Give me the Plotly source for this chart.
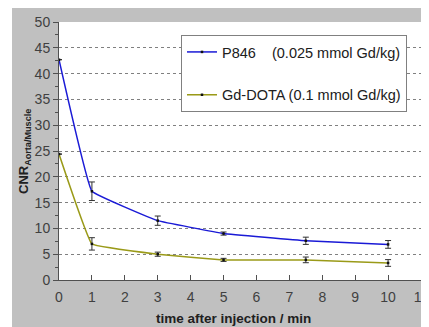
import plotly.graph_objects as go

time_min = [0, 1, 3, 5, 7.5, 10]
p846 = [42.7, 17.2, 11.5, 9.0, 7.6, 6.9]
p846_err = [0.0, 1.8, 0.9, 0.3, 0.7, 0.75]
gd_dota = [24.4, 7.0, 5.0, 3.9, 3.9, 3.3]
gd_dota_err = [0.0, 1.2, 0.4, 0.3, 0.55, 0.65]

name_p846 = "P846\u00a0\u00a0\u00a0\u00a0(0.025 mmol Gd/kg)"
name_gd = "Gd-DOTA (0.1 mmol Gd/kg)"

FONT = "Liberation Sans, Arial, sans-serif"

fig = go.Figure()
fig.add_trace(go.Scatter(
    x=time_min, y=p846, name=name_p846, legendgroup="a",
    mode="lines+markers",
    line=dict(color="#1a1ad6", width=1.5, shape="spline", smoothing=0.2),
    marker=dict(symbol="square", size=2.5, color="#101010"),
    error_y=dict(type="data", array=p846_err, color="#303030", thickness=1, width=3),
))
fig.add_trace(go.Scatter(
    x=time_min, y=gd_dota, name=name_gd, legendgroup="b",
    mode="lines+markers",
    line=dict(color="#9a9a18", width=1.5, shape="spline", smoothing=0.2),
    marker=dict(symbol="square", size=2.5, color="#101010"),
    error_y=dict(type="data", array=gd_dota_err, color="#303030", thickness=1, width=3),
))

# page has an 8px body margin; figure is placed at (8, 8)
OFF = 8
W, H = 421, 319
ml, mt = 59 - OFF, 22 - OFF
plot_right, plot_bottom = 421 - OFF, 280 - OFF
mr, mb = W - plot_right, H - plot_bottom
pw, ph = W - ml - mr, H - mt - mb

def px_to_paper_x(px):
    # px in page coordinates
    return (px - OFF - ml) / pw

def py_to_paper_y(py):
    return (H - mb - (py - OFF)) / ph

fig.update_layout(
    width=W, height=H,
    margin=dict(l=ml, r=mr, t=mt, b=mb, autoexpand=False),
    paper_bgcolor="#c0c0c0",
    plot_bgcolor="white",
    font=dict(family=FONT, size=14, color="#404040"),
    showlegend=True,
    legend=dict(
        x=px_to_paper_x(181), y=py_to_paper_y(35), xanchor="left", yanchor="top",
        bgcolor="white", bordercolor="#808080", borderwidth=1,
        font=dict(family=FONT, size=14.5, color="#202020"),
        traceorder="grouped", tracegroupgap=21,
    ),
    shapes=[
        dict(type="rect", xref="paper", yref="paper", layer="below",
             x0=px_to_paper_x(0), x1=px_to_paper_x(12), y0=py_to_paper_y(H + 20), y1=py_to_paper_y(0),
             fillcolor="white", line=dict(width=0)),
    ],
    annotations=[
        dict(text="<b>CNR<sub>Aorta/Muscle</sub></b>", textangle=-90,
             xref="paper", yref="paper", x=px_to_paper_x(24), y=py_to_paper_y(152),
             xanchor="center", yanchor="middle", showarrow=False,
             font=dict(family=FONT, size=13, color="#202020")),
        dict(text="<b>time after injection / min</b>",
             xref="paper", yref="paper", x=px_to_paper_x(233), y=py_to_paper_y(318.5),
             xanchor="center", yanchor="middle", showarrow=False,
             font=dict(family=FONT, size=13.5, color="#202020")),
    ],
)

fig.update_xaxes(
    range=[0, 11], tick0=0, dtick=1, automargin=False,
    showgrid=False, zeroline=False,
    showline=True, linecolor="#505050", linewidth=1,
    ticks="inside", ticklen=5, tickcolor="#505050",
    ticklabelstandoff=4,
    tickfont=dict(size=14, color="#404040"),
)
fig.update_yaxes(
    range=[0, 50], tick0=0, dtick=5, automargin=False,
    showgrid=True, gridcolor="#808080", griddash="dot", gridwidth=1,
    zeroline=False,
    showline=True, linecolor="#505050", linewidth=1,
    ticks="outside", ticklen=5, tickcolor="#505050",
    minor=dict(dtick=2.5, ticks="outside", ticklen=3, tickcolor="#505050", showgrid=False),
    tickfont=dict(size=14, color="#404040"),
)

fig.write_html("out.html")
